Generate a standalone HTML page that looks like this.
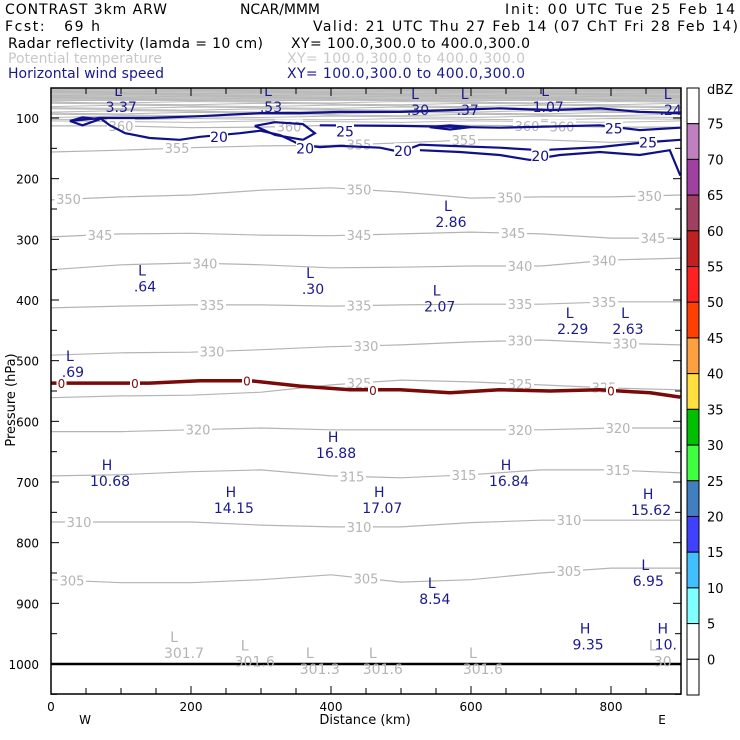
<!DOCTYPE html>
<html><head><meta charset="utf-8"><style>
html,body{margin:0;padding:0;background:#fff;}
svg{display:block;font-family:"DejaVu Sans","Liberation Sans",sans-serif;}
</style></head><body>
<svg id="chart" width="740" height="740" viewBox="0 0 740 740" xmlns="http://www.w3.org/2000/svg">
<g font-size="14" fill="#000">
<text x="5" y="14" textLength="162">CONTRAST  3km ARW</text>
<text x="240" y="14" textLength="80">NCAR/MMM</text>
<text x="505" y="14" textLength="230">Init: 00 UTC Tue 25 Feb 14</text>
<text x="5" y="31" textLength="95" xml:space="preserve">Fcst:   69 h</text>
<text x="313" y="31" textLength="425">Valid: 21 UTC Thu 27 Feb 14 (07 ChT Fri 28 Feb 14)</text>
<text x="8" y="48" textLength="255">Radar reflectivity (lamda = 10 cm)</text>
<text x="291" y="48" textLength="239">XY= 100.0,300.0 to 400.0,300.0</text>
<text x="8" y="63" textLength="154" fill="#c8c8c8">Potential temperature</text>
<text x="287" y="63" textLength="238" fill="#c8c8c8">XY= 100.0,300.0 to 400.0,300.0</text>
<text x="8" y="78" textLength="156" fill="#1a1a8c">Horizontal wind speed</text>
<text x="287" y="78" textLength="238" fill="#1a1a8c">XY= 100.0,300.0 to 400.0,300.0</text>
</g>
<defs><clipPath id="plotclip"><rect x="51" y="88" width="630" height="606"/></clipPath></defs>
<g id="plot" clip-path="url(#plotclip)"></g>
<g id="axes"></g>
<g id="cbar"></g>
</svg>
<script>
// ---------- data ----------
const kmGrid = [0,100,200,300,400,500,600,700,800,900];
const thetaLevels = [305,310,315,320,325,330,335,340,345,350,355,360];
const thetaP305 = [861,866,866,861,853,865,861,850,842,842];
const thetaP310 = [766,766,766,771,774,774,767,763,763,763];
const thetaP315 = [690,688,683,680,690,693,688,680,680,685];
const thetaP320 = [617,617,614,611,614,614,614,614,611,611];
const thetaP325 = [561,558,557,552,540,532,535,540,545,548];
const thetaP330 = [491,487,486,482,477,474,469,466,471,474];
const thetaP335 = [413,410,408,408,410,408,407,407,403,403];
const thetaP340 = [350,342,339,342,347,346,344,344,334,331];
const thetaP345 = [296,291,290,293,294,291,288,291,298,298];
const thetaP350 = [235,230,227,219,215,222,232,230,230,227];
const thetaP355 = [156,153,149,146,145,141,136,136,140,136];
const thetaP360 = [113,113,116,115,112,112,112,113,115,115];
const thetaLabelKm = [[30,450,740],[40,440,740],[430,590,810],[210,670,810],[440,670,790],[230,450,670,820],[230,440,670,790],[220,670,790],[70,440,660,860],[25,440,655,855],[180,440,590],[100,340,680,730]];
const upperP = [106,102,98,95,92,89,86,83,80,77,74,71,68,65,62,59,56,53];
const freezeKm = [0,70,141,213,284,356,427,499,570,641,713,784,856,899];
const freezeP = [537,537,537,533,533,542,548,548,553,548,550,548,553,560];
const freezeLabelKm = [15,120,280,460,800];
const windTopKm = [27,70,141,213,299,356,413,499,570,641,713,784,841,899];
const windTopP = [105,100,100,97,92,92,90,90,87,84,87,84,90,92];
const wind25Km = [384,499,641,784,841,899];
const wind25P = [112,113,116,112,120,116];
const wind20aKm = [70,84,106,141,184,213,270,299,327,356,384,413,470,499,527,570,641,699,784,841,899];
const wind20aP = [100,112,125,133,136,131,125,121,128,144,148,146,149,156,144,146,149,153,148,141,136];
const wind20bKm = [527,584,641,684,727,784,841,884,899];
const wind20bP = [153,156,161,169,161,156,161,153,195];
const loopAKm = [27,45,70,45,27]; const loopAP = [105,112,102,99,105];
const loopBKm = [291,320,360,377,360,320,291]; const loopBP = [113,107,110,125,136,128,113];
const loopCKm = [541,570,599,570,541]; const loopCP = [115,112,115,119,115];
const windLabels = [[240,130,"20"],[363,149,"20"],[503,153,"20"],[699,161,"20"],[420,121,"25"],[804,116,"25"],[853,139,"25"]];
const extremaKm = [96,310,520,591,706,881,567,130,370,551,741,820,27,403,80,650,257,469,853,849,544,763,874];
const extremaP = [54,54,59,59,54,59,243,350,354,383,420,420,491,624,670,670,715,715,718,835,865,940,940];
const extremaType = ["L","L","L","L","L","L","L","L","L","L","L","L","L","H","H","H","H","H","H","L","L","H","H"];
const extremaVal = ["3.37",".53",".30",".37","1.07",".24","2.86",".64",".30","2.07","2.29","2.63",".69","16.88","10.68","16.84","14.15","17.07","15.62","6.95","8.54","9.35","10."];
const thetaMinKm = [190,291,384,474,617,874];
const thetaMinP = [954,968,980,980,980,968];
const thetaMinVal = ["301.7","301.6","301.3","301.6","301.6","30"];
const xTicks = [0,200,400,600,800];
const yTicks = [100,200,300,400,500,600,700,800,900,1000];
const cbarLevels = [75,70,65,60,55,50,45,40,35,30,25,20,15,10,5,0];
const cbarColors = ["#ffffff","#c080c0","#a040a0","#a04060","#c02020","#ff2020","#ff4000","#ffa040","#ffe040","#00c000","#40ff40","#4080c0","#4040ff","#40c0ff","#80ffff","#ffffff","#ffffff"];

// ---------- axes ----------
const X = km => 51 + km*0.7;
const Y = p => 118 + (p-100)*0.60667;
const NS = "http://www.w3.org/2000/svg";
function mk(tag, attrs, parent){const e=document.createElementNS(NS,tag);for(const k in attrs)e.setAttribute(k,attrs[k]);parent.appendChild(e);return e;}
function pathD(kms, ps){return kms.map((k,i)=>(i?"L":"M")+X(k).toFixed(1)+","+Y(ps[i]).toFixed(1)).join(" ");}
function interp(kms, ps, k){for(let i=0;i<kms.length-1;i++){if(k>=kms[i]&&k<=kms[i+1]){const t=(k-kms[i])/(kms[i+1]-kms[i]);return ps[i]+t*(ps[i+1]-ps[i]);}}return ps[ps.length-1];}
const plot=document.getElementById("plot"), axes=document.getElementById("axes"), cbar=document.getElementById("cbar");

// upper gray fill
let r=mk("rect",{x:51,y:88,width:630,height:Y(72)-88,fill:"#c4c4c4"},plot);


upperP.forEach((p,i)=>{
  const ps=kmGrid.map((k,j)=>p+((j+i)%3-1)*1.2);
  const l=mk("path",{d:pathD(kmGrid,ps),fill:"none",stroke:"#b8b8b8","stroke-width":1},plot);
  
  
});
const thetaSeries=[thetaP305,thetaP310,thetaP315,thetaP320,thetaP325,thetaP330,thetaP335,thetaP340,thetaP345,thetaP350,thetaP355,thetaP360];
thetaSeries.forEach((ps,i)=>{
  const l=mk("path",{d:pathD(kmGrid,ps),fill:"none",stroke:"#b4b4b4","stroke-width":1.2},plot);
  
  
  thetaLabelKm[i].forEach(k=>{
    const y=Y(interp(kmGrid,ps,k));
    mk("rect",{x:X(k)-14,y:y-7,width:28,height:13,fill:"#fff"},plot);
    const t=mk("text",{x:X(k),y:y+5,"text-anchor":"middle","font-size":13,fill:"#b4b4b4"},plot);
    t.textContent=thetaLevels[i];
    
    
  });
});
// wind contours
[[windTopKm,windTopP],[wind25Km,wind25P],[wind20aKm,wind20aP],[wind20bKm,wind20bP],[loopAKm,loopAP],[loopBKm,loopBP],[loopCKm,loopCP]].forEach(s=>{
  const l=mk("path",{d:pathD(s[0],s[1]),fill:"none",stroke:"#10108a","stroke-width":2.2},plot);
  
  
});
windLabels.forEach(w=>{
  mk("rect",{x:X(w[0])-9,y:Y(w[1])-7,width:18,height:13,fill:"#fff"},plot);
  const t=mk("text",{x:X(w[0]),y:Y(w[1])+6,"text-anchor":"middle","font-size":14,fill:"#10108a"},plot);
  t.textContent=w[2];
  
  
});
// freezing level
let fz=mk("path",{d:pathD(freezeKm,freezeP),fill:"none",stroke:"#7a0a0a","stroke-width":3.5},plot);


freezeLabelKm.forEach(k=>{
  const y=Y(interp(freezeKm,freezeP,k));
  mk("rect",{x:X(k)-5,y:y-6,width:10,height:12,fill:"#fff"},plot);
  const t=mk("text",{x:X(k),y:y+5,"text-anchor":"middle","font-size":12,fill:"#7a0a0a"},plot);
  t.textContent="0";
  
  
});
// surface
let sf=mk("line",{x1:51,y1:Y(1000),x2:681,y2:Y(1000),stroke:"#000","stroke-width":2.5},plot);


// theta minima
thetaMinKm.forEach((k,i)=>{
  const g=mk("g",{fill:"#b4b4b4","font-size":14,"text-anchor":"middle"},plot);
  
  
  mk("text",{x:X(k)-10,y:Y(thetaMinP[i])+6},g).textContent="L";
  mk("text",{x:X(k),y:Y(thetaMinP[i])+22},g).textContent=thetaMinVal[i];
});
// wind extrema
extremaKm.forEach((k,i)=>{
  const g=mk("g",{fill:"#1a1a8c","font-size":14,"text-anchor":"middle"},plot);
  
  
  mk("text",{x:X(k),y:Y(extremaP[i])+6},g).textContent=extremaType[i];
  mk("text",{x:X(k)+3,y:Y(extremaP[i])+22},g).textContent=extremaVal[i];
});
// frame & ticks
let fr=mk("rect",{x:51,y:88,width:630,height:606,fill:"none",stroke:"#000","stroke-width":1.5},axes);


for(let k=50;k<900;k+=50){
  const L=(k%200===0)?8:6;
  mk("line",{x1:X(k),y1:694,x2:X(k),y2:694-L,stroke:"#000"},axes);
  mk("line",{x1:X(k),y1:88,x2:X(k),y2:88+L,stroke:"#000"},axes);
}
for(let p=100;p<=1050;p+=50){
  const L=(p%100===0)?8:6;
  mk("line",{x1:51,y1:Y(p),x2:51+L,y2:Y(p),stroke:"#000"},axes);
  mk("line",{x1:681,y1:Y(p),x2:681-L,y2:Y(p),stroke:"#000"},axes);
}
xTicks.forEach(k=>{
  const t=mk("text",{x:X(k),y:711,"text-anchor":"middle","font-size":12},axes);
  t.textContent=k;
  
  
});
yTicks.forEach(p=>{
  const t=mk("text",{x:39,y:Y(p)+5,"text-anchor":"end","font-size":12},axes);
  t.textContent=p;
  
  
});
let xt=mk("text",{x:365,y:724,"text-anchor":"middle","font-size":13},axes);xt.textContent="Distance (km)";


let yt=mk("text",{x:0,y:0,"text-anchor":"middle","font-size":13,transform:"translate(15,400) rotate(-90)"},axes);yt.textContent="Pressure (hPa)";


let wl=mk("text",{x:85,y:724,"text-anchor":"middle","font-size":12},axes);wl.textContent="W";


let el=mk("text",{x:662,y:724,"text-anchor":"middle","font-size":12},axes);el.textContent="E";


// colorbar
const cTop=88, cH=(695-88)/cbarColors.length;
cbarColors.forEach((c,i)=>{
  const b=mk("rect",{x:687,y:cTop+i*cH,width:12,height:cH,fill:c,stroke:"#000","stroke-width":1},cbar);
  
  
});
cbarLevels.forEach((v,i)=>{
  const t=mk("text",{x:707,y:cTop+(i+1)*cH+5,"font-size":13},cbar);
  t.textContent=v;
  
  
});
let cu=mk("text",{x:707,y:94,"font-size":13},cbar);cu.textContent="dBZ";


</script>
</body></html>
